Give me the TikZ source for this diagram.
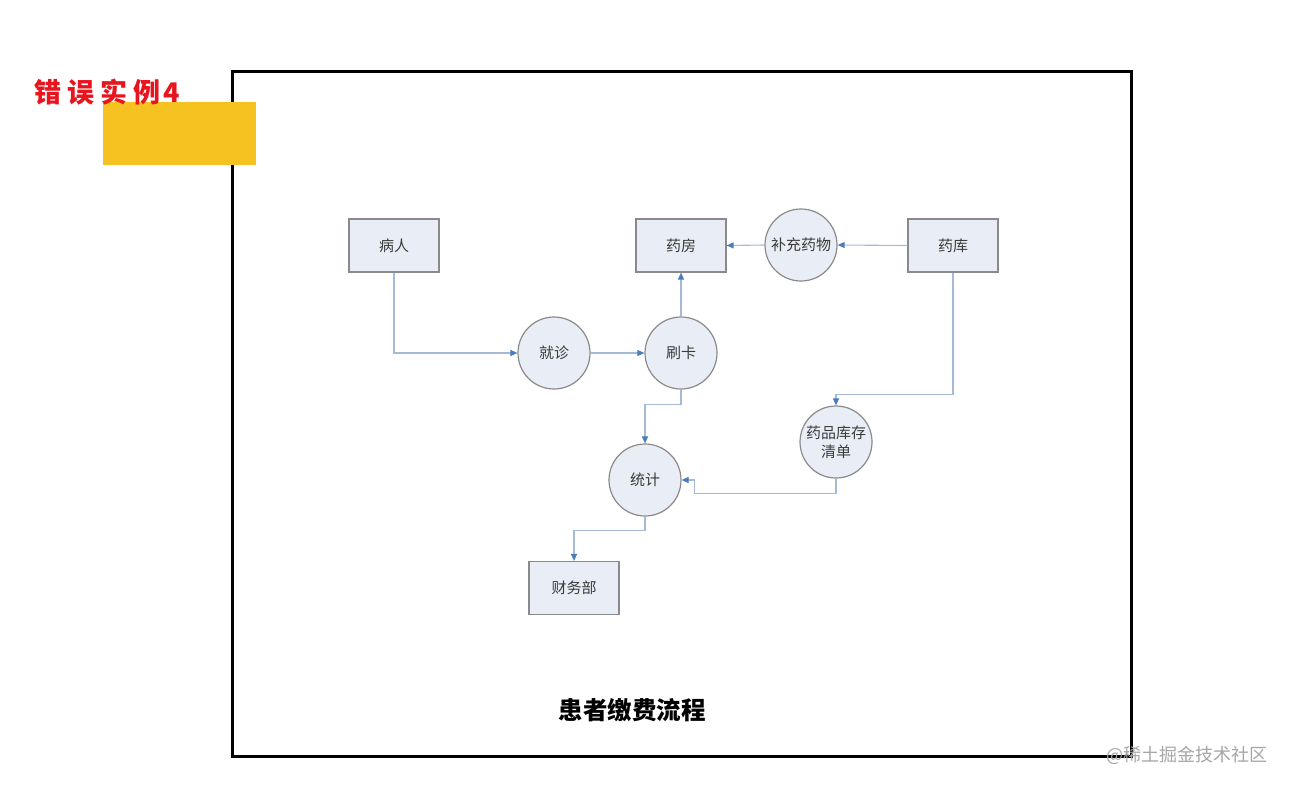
\documentclass[tikz,border=0pt]{standalone}
\usepackage{fontspec}
\setmainfont{Noto Sans CJK SC}
\newfontfamily\cjk{Noto Sans CJK SC}
\usetikzlibrary{arrows.meta}
\definecolor{linec}{HTML}{A6BAD8}
\definecolor{arrc}{HTML}{4A7EBB}
\definecolor{fillc}{HTML}{E9EDF5}
\definecolor{bordc}{HTML}{8A8A8A}
\definecolor{txtc}{HTML}{3A3A3A}
\definecolor{yel}{HTML}{F6C222}
\definecolor{redc}{HTML}{E8141E}
\tikzset{
  boxnode/.style={draw=bordc, line width=1.2pt, fill=fillc, minimum width=90pt, minimum height=53pt, inner sep=0pt, font=\cjk\fontsize{15}{18}\selectfont, text=txtc},
  procnode/.style={circle, draw=bordc, line width=1.2pt, fill=fillc, minimum size=72pt, inner sep=0pt, align=center, font=\cjk\fontsize{15}{19}\selectfont, text=txtc},
  flow/.style={draw=linec, line width=1.1pt, -{Triangle[length=7pt,width=6pt,color=arrc]}}
}
\begin{document}
\begin{tikzpicture}[x=1pt,y=-1pt]
\useasboundingbox (0,0) rectangle (1305,787);
\fill[white] (0,0) rectangle (1305,787);
% frame
\draw[line width=3pt, black] (232,71) rectangle (1131,756);
% yellow block
\fill[yel] (103,102) rectangle (256,165);
% red title
\node[anchor=west, text=redc, font=\cjk\bfseries\fontsize{27}{29}\selectfont, inner sep=0pt] (err) at (34,92) {错\hspace{6pt}误\hspace{6pt}实\hspace{6pt}例\hspace{3pt}4};
% nodes
\node[boxnode] (br) at (394,245.5) {病人};
\node[boxnode] (yf) at (681,245.5) {药房};
\node[boxnode] (yk) at (953,245.5) {药库};
\node[boxnode] (cw) at (574,588) {财务部};
\node[procnode] (bc) at (801,245) {补充药物};
\node[procnode] (jz) at (554,353) {就诊};
\node[procnode] (sk) at (681,353) {刷卡};
\node[procnode] (qd) at (836,442) {药品库存\\清单};
\node[procnode] (tj) at (645,480) {统计};
% connectors
\draw[flow] (br.south) |- (jz.west);
\draw[flow] (jz.east) -- (sk.west);
\draw[flow] (sk.north) -- (yf.south);
\draw[flow] (yk.west) -- (bc.east);
\draw[flow] (bc.west) -- (yf.east);
\draw[flow] (yk.south) -- ++(0,122) -| (qd.north);
\draw[flow] (sk.south) -- ++(0,15) -| (tj.north);
\draw[flow] (qd.south) -- ++(0,15) -| ([xshift=13pt]tj.east) -- (tj.east);
\draw[flow] (tj.south) -- ++(0,14) -| (cw.north);
% caption
\node[font=\cjk\bfseries\fontsize{24.5}{27}\selectfont, text=black] (cap) at (632,710) {患者缴费流程};
% watermark
\node[anchor=west, font=\cjk\fontsize{18}{20}\selectfont, text=black!35, inner sep=0pt] (wm) at (1106,755) {@稀土掘金技术社区};
\end{tikzpicture}
\end{document}
